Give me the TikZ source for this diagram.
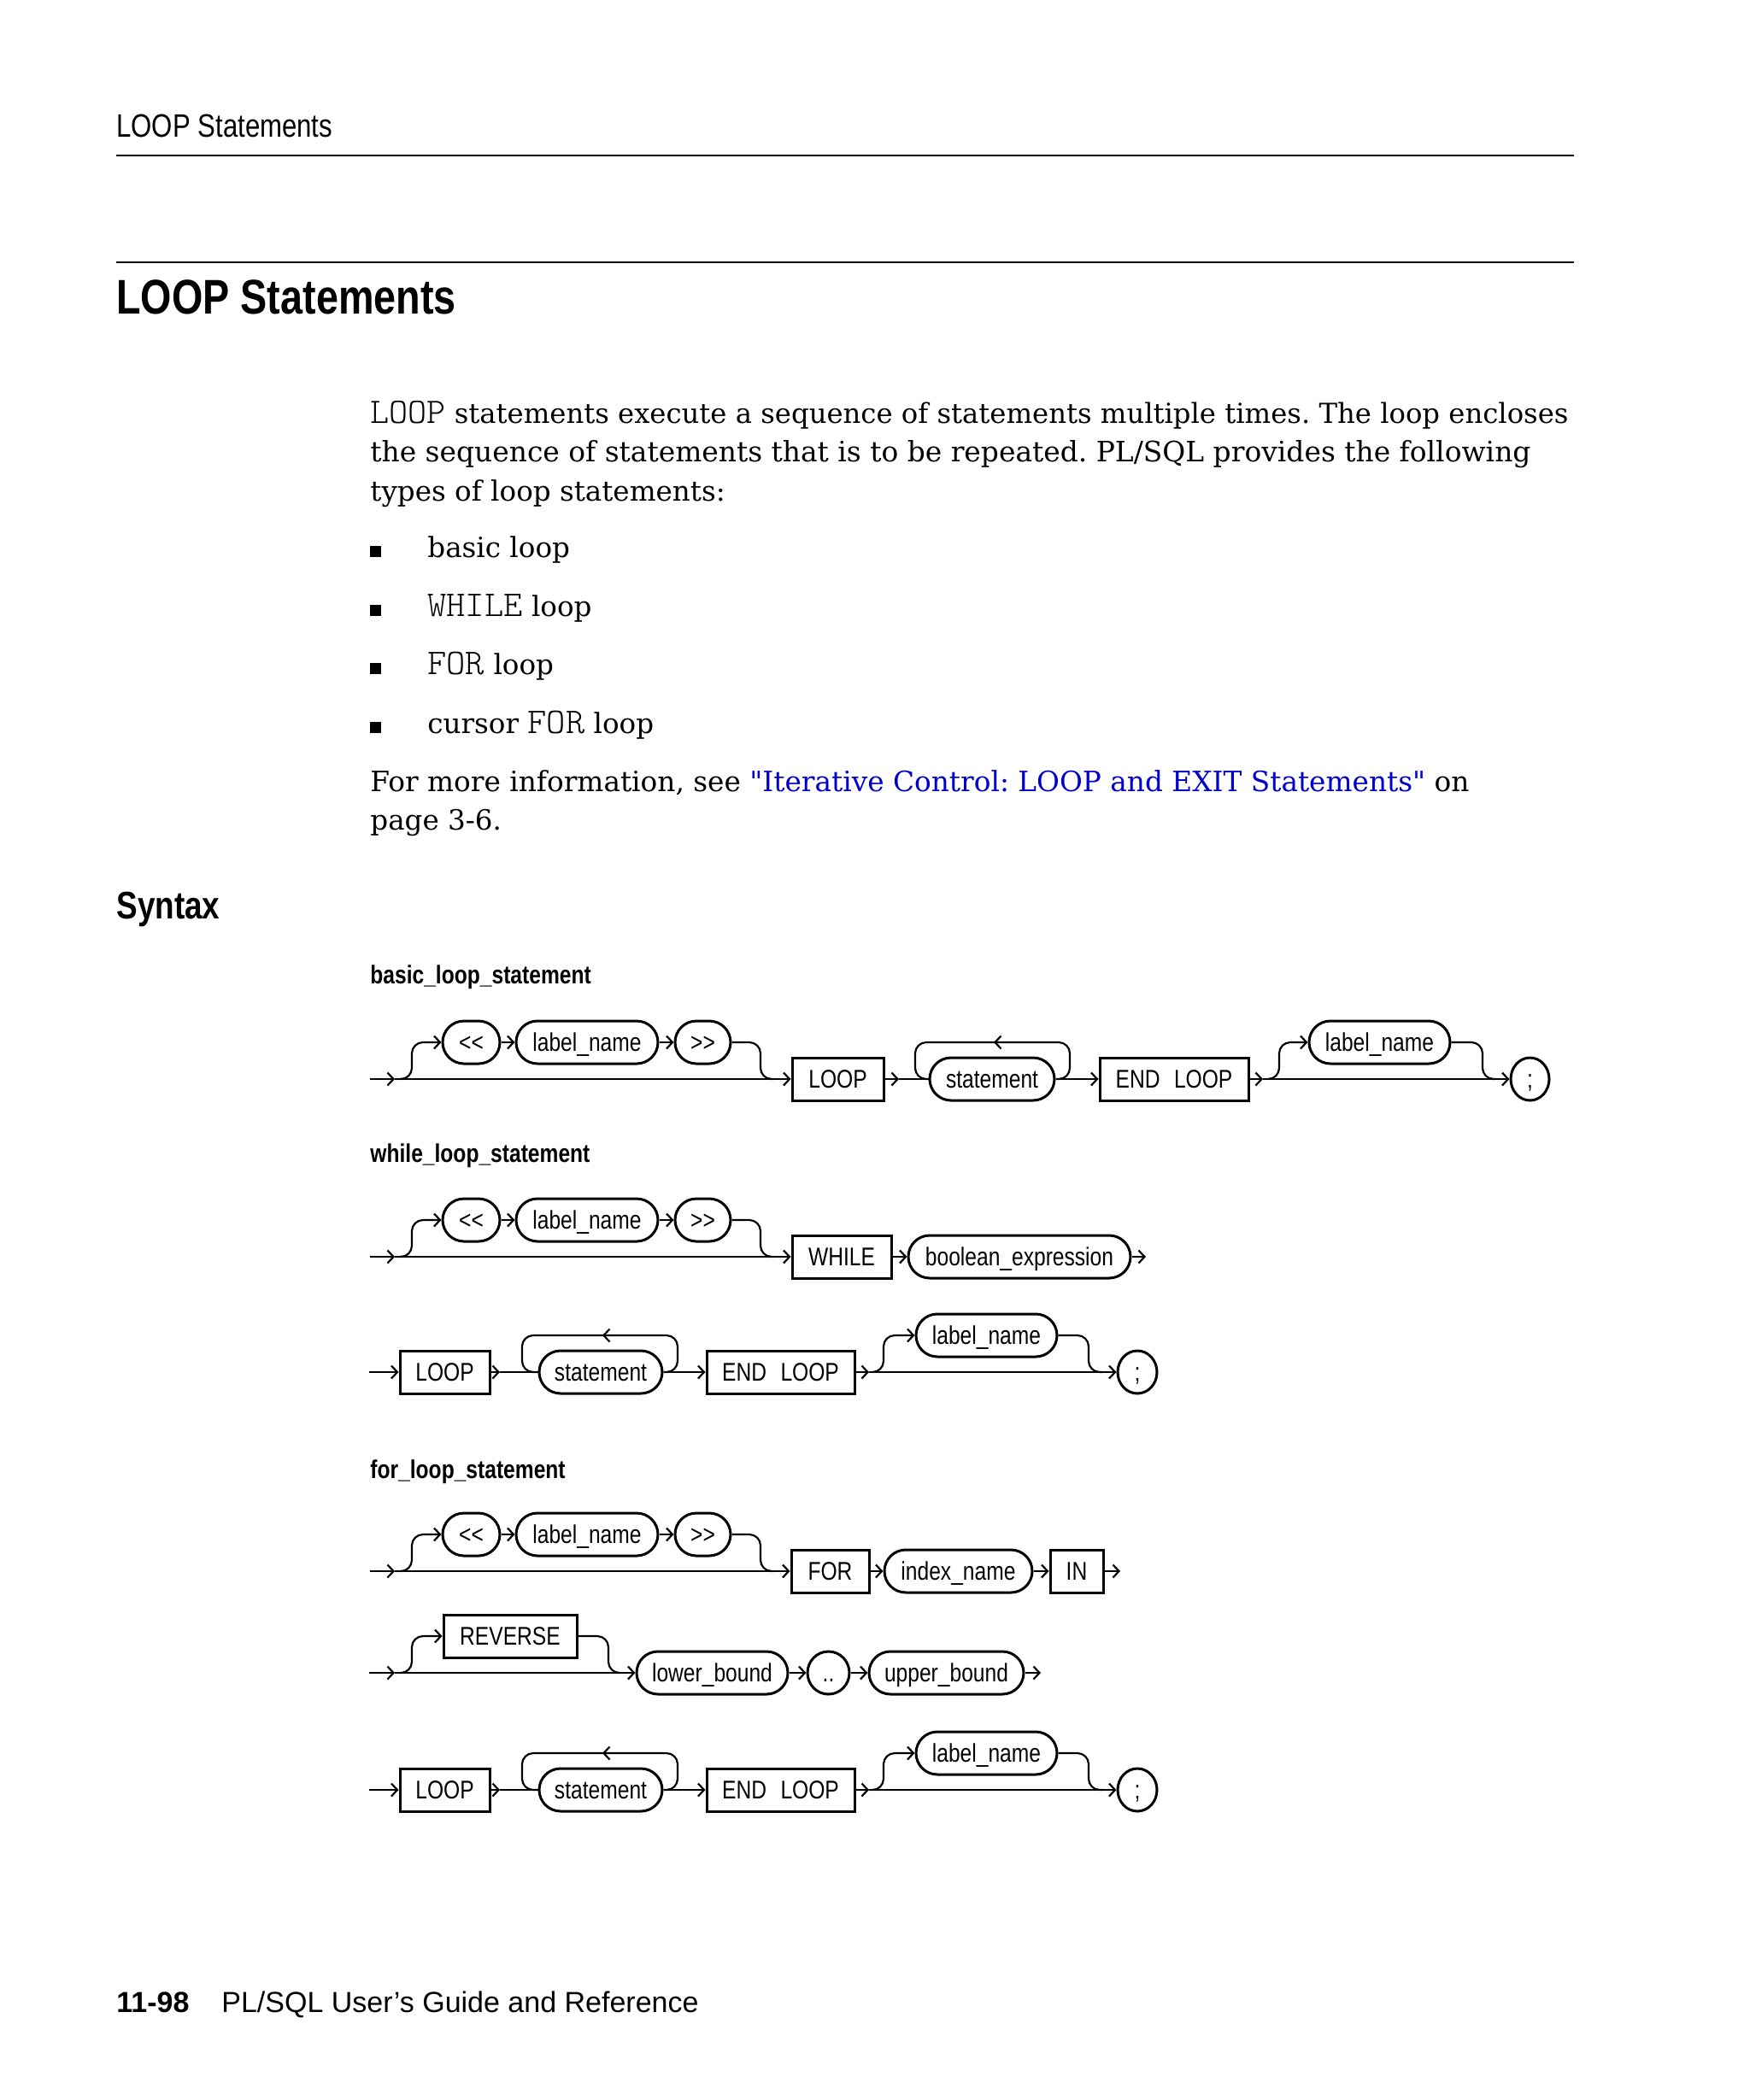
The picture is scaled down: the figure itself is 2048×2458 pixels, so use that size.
\documentclass[tikz,border=0pt]{standalone}
\usepackage{fontspec}
\usepackage{graphicx}
\setmainfont{DejaVu Serif}
\setmonofont{Latin Modern Mono Light}
\newfontfamily\nar[FakeStretch=0.82]{Liberation Sans}
\newfontfamily\helv{Liberation Sans}
\usetikzlibrary{arrows.meta,shapes.geometric}
\definecolor{linkblue}{RGB}{0,0,204}
\frenchspacing
\newcommand\nodefont{\nar\fontsize{15pt}{18pt}\selectfont}
\newcommand\bodyfont{\fontsize{16.3pt}{19pt}\selectfont}
\newcommand\mono[1]{{\fontsize{21.2pt}{19pt}\selectfont\ttfamily #1}}
\newcommand\sq{\XeTeXglyph\XeTeXcharglyph"22\relax}
\tikzset{
 nw/.style={minimum width=#1*0.5pt},
 kw/.style={draw, line width=1.5pt, rectangle, minimum height=25pt, inner sep=0pt,
   font=\nodefont, text height=10.7pt, text depth=0pt},
 tm/.style={kw, rounded corners=12.5pt},
 el/.style={kw, ellipse},
 ln/.style={line width=1.1pt},
 ar/.style={ln, -{Straight Barb[length=3.5pt,width=7.5pt]}},
 rc/.style={rounded corners=6.5pt},
 txt/.style={inner sep=0pt, anchor=base west},
}
% LOOP statement ... END LOOP [label_name] ; row
\newcommand\looprow[2]{%
 \node[kw, nw=105] (#1loop) at (520.5,#2) {LOOP};
 \node[tm, nw=144] (#1stmt) at (703,#2) {statement};
 \node[kw, nw=173] (#1end) at (913.5,#2) {END\hspace{0.55em}LOOP};
 \node[tm, nw=165] (#1lab) at (1154.5,{#2-43}) {label\_name};
 \node[el, nw=46] (#1semi) at (1331,#2) {;};
 \coordinate (#1s) at (432,#2);
 \coordinate (#1c1) at (585,#2);
 \coordinate (#1c2) at (1017,#2);
 \draw[ar] (#1s) -- (#1loop.west);
 \draw[ar] (#1loop.east) -- (#1c1);
 \draw[ln] (#1c1) -- (#1stmt.west);
 \draw[ln, rc] (#1stmt.east) -- (793,#2) -- (793,{#2-43}) -- (611,{#2-43}) -- (611,#2) -- (631,#2);
 \draw[ar] (716,{#2-43}) -- (705,{#2-43});
 \draw[ar] (#1stmt.east) -- (#1end.west);
 \draw[ar] (#1end.east) -- (#1c2);
 \draw[ar] (#1c2) -- (#1semi.west);
 \draw[ar, rc] (1021,#2) -- (1034,#2) -- (1034,{#2-43}) -- (#1lab.west);
 \draw[ln, rc] (#1lab.east) -- (1274,{#2-43}) -- (1274,#2) -- (1290,#2);
}
% optional << label_name >> prefix
\newcommand\labelprefix[3]{%
 \node[tm, nw=67] (#1lt) at (551.5,#3) {<\kern0pt<};
 \node[tm, nw=166] (#1lab) at (687,#3) {label\_name};
 \node[tm, nw=65] (#1gt) at (822.5,#3) {>\kern0pt>};
 \coordinate (#1s) at (433,#2);
 \coordinate (#1c0) at (462,#2);
 \draw[ar] (#1s) -- (#1c0);
 \draw[ar, rc] (468,#2) -- (482,#2) -- (482,#3) -- (#1lt.west);
 \draw[ar] (#1lt) -- (#1lab);
 \draw[ar] (#1lab) -- (#1gt);
 \draw[ln, rc] (#1gt.east) -- (890,#3) -- (890,#2) -- (905,#2);
}
\begin{document}
\begin{tikzpicture}[x=0.5pt, y=-0.5pt]
\useasboundingbox (0,0) rectangle (2048,2458);
\fill[white] (0,0) rectangle (2048,2458);

% header
\node[txt] (hd) at (136,160) {\nar\fontsize{19pt}{22pt}\selectfont LOOP Statements};
\draw[line width=1pt] (136,182) -- (1842,182);
\draw[line width=1pt] (136,307) -- (1842,307);
\node[txt] (ttl) at (136,367) {\nar\bfseries\fontsize{28.5pt}{32pt}\selectfont LOOP Statements};

% body
\node[txt] (p1) at (433,495) {\resizebox{701pt}{!}{\bodyfont\mono{LOOP} statements execute a sequence of statements multiple times. The loop encloses}};
\node[txt] (p2) at (433,540) {\resizebox{679pt}{!}{\bodyfont the sequence of statements that is to be repeated. PL/SQL provides the following}};
\node[txt] (p3) at (433,586) {\bodyfont types of loop statements:};
\foreach \yy/\tt [count=\i] in {652/{basic loop}, 721/{\mono{WHILE} loop}, 789/{\mono{FOR} loop}, 858/{cursor \mono{FOR} loop}} {
  \node[fill, minimum size=6.5pt, inner sep=0pt, anchor=south west] (bu\i) at (433,\yy) {};
  \node[txt] (bt\i) at (500,\yy) {\bodyfont\tt};
}
\node[txt] (m1) at (433,926) {\resizebox{643pt}{!}{\bodyfont For more information, see \textcolor{linkblue}{\sq Iterative Control: LOOP and EXIT Statements\sq} on}};
\node[txt] (m2) at (433,971) {\bodyfont page 3-6.};

\node[txt] (syn) at (136,1075) {\nar\bfseries\fontsize{22.5pt}{26pt}\selectfont Syntax};

% ---------- basic_loop_statement
\node[txt] (hb) at (433,1151) {\nar\bfseries\fontsize{15pt}{18pt}\selectfont basic\_loop\_statement};
\labelprefix{b}{1263}{1220}
\node[kw, nw=107] (bloop) at (980.5,1263) {LOOP};
\node[tm, nw=146] (bstmt) at (1161,1263) {statement};
\node[kw, nw=174] (bend) at (1374,1263) {END\hspace{0.55em}LOOP};
\node[tm, nw=165] (blab2) at (1614.5,1220) {label\_name};
\node[el, nw=45] (bsemi) at (1790.5,1263) {;};
\coordinate (bc1) at (1052,1263);
\coordinate (bc2) at (1478,1263);
\draw[ar] (bc0) -- (bloop.west);
\draw[ar] (bloop.east) -- (bc1);
\draw[ln] (bc1) -- (bstmt.west);
\draw[ln, rc] (bstmt.east) -- (1252,1263) -- (1252,1220) -- (1071,1220) -- (1071,1263) -- (1088,1263);
\draw[ar] (1174,1220) -- (1163,1220);
\draw[ar] (bstmt.east) -- (bend.west);
\draw[ar] (bend.east) -- (bc2);
\draw[ar] (bc2) -- (bsemi.west);
\draw[ar, rc] (1484,1263) -- (1497,1263) -- (1497,1220) -- (blab2.west);
\draw[ln, rc] (blab2.east) -- (1735,1220) -- (1735,1263) -- (1750,1263);

% ---------- while_loop_statement
\node[txt] (hw) at (433,1360) {\nar\bfseries\fontsize{15pt}{18pt}\selectfont while\_loop\_statement};
\labelprefix{w}{1471}{1428}
\node[kw, nw=116] (wwhile) at (985,1471) {WHILE};
\node[tm, nw=260] (wbool) at (1193,1471) {boolean\_expression};
\coordinate (wout) at (1341,1471);
\draw[ar] (wc0) -- (wwhile.west);
\draw[ar] (wwhile) -- (wbool);
\draw[ar] (wbool.east) -- (wout);
\looprow{wl}{1606}

% ---------- for_loop_statement
\node[txt] (hf) at (433,1730) {\nar\bfseries\fontsize{15pt}{18pt}\selectfont for\_loop\_statement};
\labelprefix{f}{1839}{1796}
\node[kw, nw=91] (ffor) at (971.5,1839) {FOR};
\node[tm, nw=173] (fidx) at (1121.5,1839) {index\_name};
\node[kw, nw=62] (fin) at (1260,1839) {IN};
\coordinate (fout) at (1311,1839);
\draw[ar] (fc0) -- (ffor.west);
\draw[ar] (ffor) -- (fidx);
\draw[ar] (fidx) -- (fin);
\draw[ar] (fin.east) -- (fout);

\node[kw, nw=156] (frev) at (597,1915) {REVERSE};
\node[tm, nw=177] (flow) at (833.5,1958) {lower\_bound};
\node[el, nw=49] (fdots) at (969.5,1958) {..};
\node[tm, nw=181] (fup) at (1107.5,1958) {upper\_bound};
\coordinate (grs) at (432,1958);
\coordinate (grc) at (462,1958);
\coordinate (grout) at (1218,1958);
\draw[ar] (grs) -- (grc);
\draw[ar] (grc) -- (flow.west);
\draw[ar, rc] (468,1958) -- (482,1958) -- (482,1915) -- (frev.west);
\draw[ln, rc] (frev.east) -- (712,1915) -- (712,1958) -- (726,1958);
\draw[ar] (flow) -- (fdots);
\draw[ar] (fdots) -- (fup);
\draw[ar] (fup.east) -- (grout);

\looprow{fl}{2095}

% footer
\node[txt] (ft1) at (136,2355) {\helv\bfseries\fontsize{17pt}{20pt}\selectfont 11-98};
\node[txt] (ft2) at (259,2355) {\helv\fontsize{17pt}{20pt}\selectfont PL/SQL User’s Guide and Reference};
\end{tikzpicture}
\end{document}
